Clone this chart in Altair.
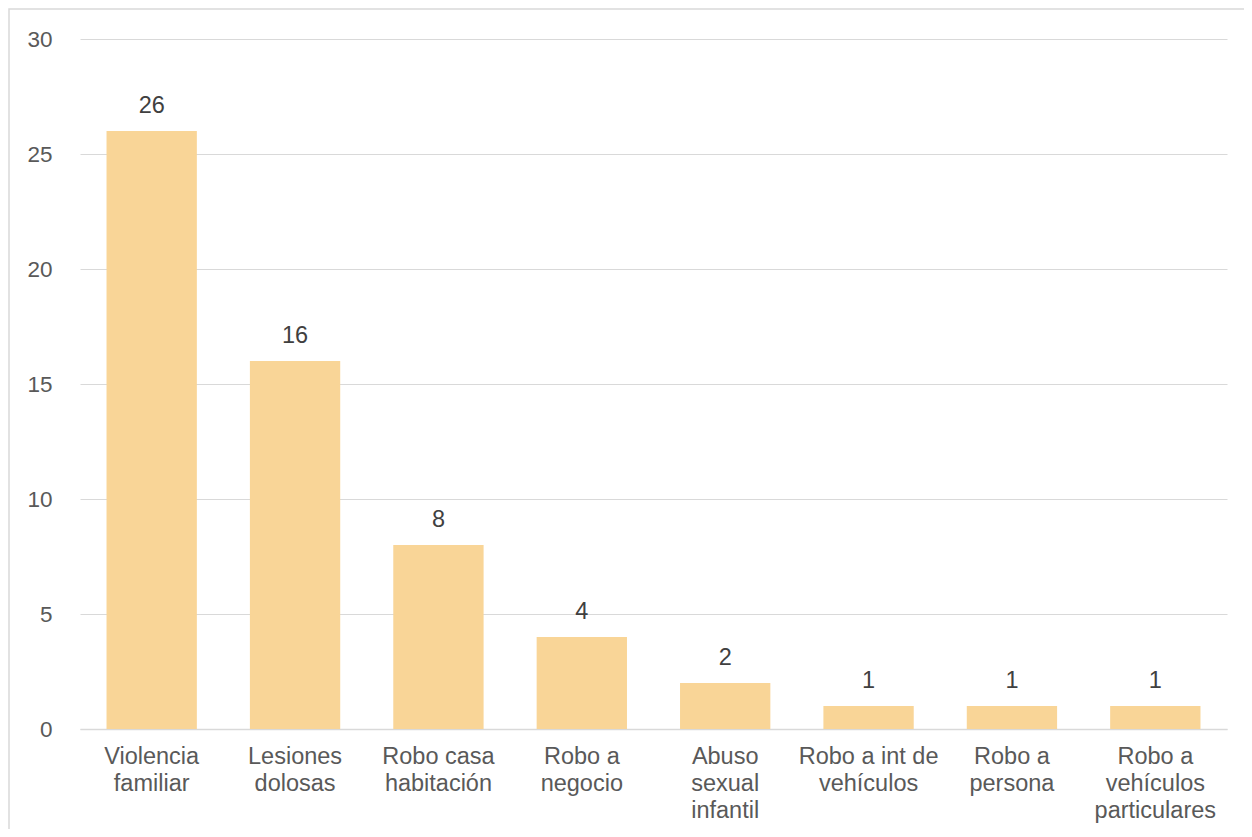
import altair as alt
import pandas as pd

categories = ["Violencia familiar", "Lesiones dolosas", "Robo casa habitación", "Robo a negocio",
              "Abuso sexual infantil", "Robo a int de vehículos", "Robo a persona",
              "Robo a vehículos particulares"]
label_lines = ["Violencia|familiar", "Lesiones|dolosas", "Robo casa|habitación", "Robo a|negocio",
               "Abuso|sexual|infantil", "Robo a int de|vehículos", "Robo a|persona",
               "Robo a|vehículos|particulares"]
values = [26, 16, 8, 4, 2, 1, 1, 1]
y_ticks = [0, 5, 10, 15, 20, 25, 30]

df = pd.DataFrame({"cat": label_lines, "value": values})

W, H = 1147, 690

x = alt.X("cat:N", sort=label_lines,
          scale=alt.Scale(paddingInner=0.37, paddingOuter=0.185),
          axis=alt.Axis(title=None, labelAngle=0, labelExpr="split(datum.label, '|')",
                        labelFontSize=23.5, labelColor="#595959", labelFont="Liberation Sans",
                        labelPadding=15, labelLineHeight=27, ticks=False,
                        domainColor="#d9d9d9", domainWidth=1.5, grid=False,
                        labelBaseline="top"))
y = alt.Y("value:Q", scale=alt.Scale(domain=[0, 30], nice=False),
          axis=alt.Axis(title=None, values=y_ticks, labelFontSize=22.5, labelColor="#595959",
                        labelFont="Liberation Sans", labelPadding=28, ticks=False, domain=False,
                        gridColor="#d9d9d9", gridWidth=1.2))

bars = alt.Chart(df).mark_bar(color="#F9D597").encode(x=x, y=y)
text = alt.Chart(df).mark_text(dy=-25, baseline="middle", fontSize=23.5, color="#404040",
                               font="Liberation Sans").encode(x=x, y=y, text="value:Q")

border = alt.Chart(pd.DataFrame({"a": [0]})).mark_rect(
    filled=False, stroke="#d9d9d9", strokeWidth=1.5).encode(
    x=alt.value(-71), x2=alt.value(1200), y=alt.value(-30), y2=alt.value(830))

chart = alt.layer(border, bars, text).properties(
    width=W, height=H,
    background="white",
    padding={"left": 72, "top": 31, "right": 17, "bottom": 100},
    autosize=alt.AutoSizeParams(type="none"),
).configure_view(strokeWidth=0, stroke="transparent")

chart.save("out.html", embed_options={"renderer": "svg", "actions": False})
